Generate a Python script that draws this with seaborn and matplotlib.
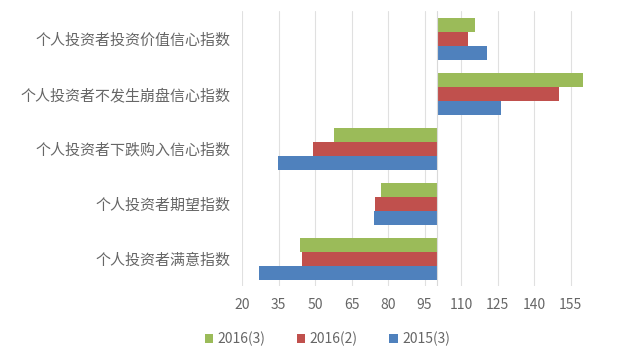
import pandas as pd
import numpy as np
import matplotlib
matplotlib.use("Agg")
import matplotlib.pyplot as plt
from matplotlib.ticker import FuncFormatter
import seaborn as sns

categories = ["个人投资者投资价值信心指数", "个人投资者不发生崩盘信心指数",
              "个人投资者下跌购入信心指数", "个人投资者期望指数", "个人投资者满意指数"]
series = ["2016(3)", "2016(2)", "2015(3)"]
v2016_3 = [115.7, 160.3, 57.6, 77.3, 43.9]
v2016_2 = [112.7, 150.3, 49.1, 74.8, 44.8]
v2015_3 = [120.8, 126.4, 34.7, 74.4, 26.8]
colors = ["#9BBB59", "#C0504D", "#4F81BD"]
base = 100
xticks = [20, 35, 50, 65, 80, 95, 110, 125, 140, 155]

df = pd.DataFrame({
    "cat": categories * 3,
    "series": [s for s in series for _ in categories],
    "value": v2016_3 + v2016_2 + v2015_3,
})
# bars grow from the 100 baseline, so plot the offset and relabel the axis
df["offset"] = df["value"] - base

sns.set_style("white")
plt.rcParams["font.family"] = ["Noto Sans CJK SC", "DejaVu Sans"]
txt = "#666666"

fig = plt.figure(figsize=(6.4, 3.58), dpi=100)
ax = fig.add_axes([242 / 640, 0.2, (590 - 242) / 640, 0.768])

sns.barplot(data=df, y="cat", x="offset", hue="series", order=categories,
            hue_order=series, palette=colors, orient="h", width=0.76,
            gap=0, ax=ax, legend=True, saturation=1, linewidth=0)

ax.set_xlim(20 - base, 163 - base)
ax.set_xticks([t - base for t in xticks])
ax.xaxis.set_major_formatter(FuncFormatter(lambda v, p: f"{v + base:.0f}"))
ax.grid(axis="x", color="#E0E0E0", linewidth=0.8)
ax.set_axisbelow(True)
ax.axvline(0, color="#D9D9D9", linewidth=0.8)
for s in ax.spines.values():
    s.set_visible(False)
ax.tick_params(axis="both", length=0, colors=txt, labelsize=10.8)
ax.tick_params(axis="y", pad=8)
ax.tick_params(axis="x", labelsize=10, pad=8)
ax.set_xlabel("")
ax.set_ylabel("")

ax.legend(loc="upper center", bbox_to_anchor=(0.245, -0.12), ncol=3,
          frameon=False, fontsize=10, handlelength=0.6, handleheight=0.6,
          handletextpad=0.3, columnspacing=2.3, labelcolor=txt)

fig.savefig("out.png", dpi=100)
